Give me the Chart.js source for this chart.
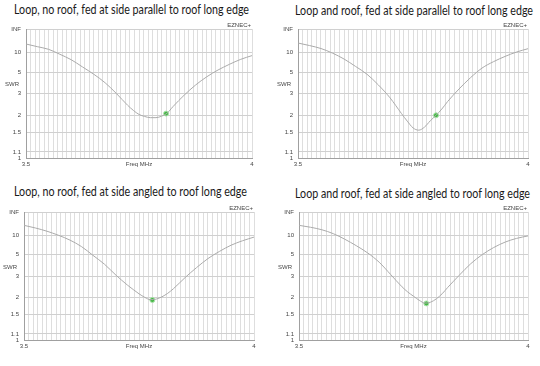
<!DOCTYPE html>
<html>
<head>
<meta charset="utf-8">
<script src="https://cdn.jsdelivr.net/npm/chart.js@4.4.1/dist/chart.umd.min.js"></script>
<style>
  body { margin: 0; background: #fff; width: 540px; height: 366px; position: relative; overflow: hidden; }
  canvas { position: absolute; }
  .title { position: absolute; font-family: Lato, "Open Sans", sans-serif; font-size: 12.5px; line-height: 14px; color: #1a1a1a; white-space: nowrap; }
</style>
</head>
<body>
<div class="title" id="t1"></div><div class="title" id="t2"></div>
<div class="title" id="t3"></div><div class="title" id="t4"></div>
<canvas id="c1" width="270" height="183"></canvas>
<canvas id="c2" width="270" height="183"></canvas>
<canvas id="c3" width="270" height="183"></canvas>
<canvas id="c4" width="270" height="183"></canvas>
<script>
// frequency points (MHz), denser near the dip
const freqs = [3.5, 3.525, 3.55, 3.575, 3.6, 3.625, 3.65, 3.675, 3.7, 3.725, 3.7375, 3.75, 3.7625,
  3.775, 3.7875, 3.8, 3.8125, 3.825, 3.85, 3.875, 3.9, 3.925, 3.95, 3.975, 4.0];

// SWR
const swrNoRoofParallel = [16.2, 13.6, 11.7, 9.2, 7.4, 5.8, 4.7, 3.8, 3.0, 2.38, 2.17, 2.02, 1.95,
  1.91, 1.91, 1.96, 2.07, 2.32, 2.9, 3.6, 4.4, 5.3, 6.3, 7.5, 8.7];
const swrRoofParallel = [17.4, 14.6, 12.2, 9.7, 7.6, 5.9, 4.7, 3.6, 2.75, 2.05, 1.8, 1.61, 1.55,
  1.63, 1.81, 1.99, 2.22, 2.55, 3.3, 4.3, 5.6, 6.9, 8.4, 10.2, 12.1];
const swrNoRoofAngled = [18.2, 15.0, 12.3, 10.0, 8.1, 6.4, 4.9, 3.9, 3.05, 2.5, 2.3, 2.13, 2.0,
  1.92, 1.94, 2.02, 2.15, 2.34, 2.9, 3.6, 4.5, 5.5, 6.7, 7.9, 9.2];
const swrRoofAngled = [18.2, 15.8, 13.4, 10.8, 8.4, 6.6, 5.25, 4.1, 3.1, 2.42, 2.2, 2.04, 1.9,
  1.81, 1.84, 1.95, 2.13, 2.4, 3.05, 3.95, 5.0, 6.2, 7.5, 8.7, 9.7];

// green cursor markers
const markerFreqs = [3.81, 3.80, 3.779, 3.778];
const markerSwr = [2.05, 1.99, 1.91, 1.80];

// axis ticks
const swrTicks = [1, 1.1, 1.5, 2, 3, 5, 10, Infinity];
const swrTickLabels = ['1', '1.1', '1.5', '2', '3', '5', '10', 'INF'];
const freqTickLabels = ['3.5', '4'];

const titles = [
  'Loop, no roof, fed at side parallel to roof long edge',
  'Loop and roof, fed at side parallel to roof long edge',
  'Loop, no roof, fed at side angled to roof long edge',
  'Loop and roof, fed at side angled to roof long edge'
];

// EZNEC plots SWR on a reflection coefficient scale
const toGamma = s => s === Infinity ? 1 : (s - 1) / (s + 1);

const panels = [
  { id: 'c1', x: 0, y: 0, swr: swrNoRoofParallel, area: { l: 26, r: 252, t: 29, b: 158 }, tx: 14, ty: 3, tw: 235 },
  { id: 'c2', x: 270, y: 0, swr: swrRoofParallel, area: { l: 28, r: 258, t: 29, b: 158 }, tx: 295, ty: 4, tw: 238 },
  { id: 'c3', x: 0, y: 183, swr: swrNoRoofAngled, area: { l: 24, r: 254, t: 29, b: 157 }, tx: 14, ty: 185, tw: 233 },
  { id: 'c4', x: 270, y: 183, swr: swrRoofAngled, area: { l: 29, r: 258, t: 29, b: 157 }, tx: 295, ty: 187, tw: 235 }
];

const smallFont = { family: '"Liberation Sans", Arial, sans-serif', size: 6 };

const panelText = {
  id: 'panelText',
  afterDraw(chart) {
    const { ctx, chartArea: a } = chart;
    ctx.save();
    ctx.font = '6px "Liberation Sans", Arial, sans-serif';
    ctx.fillStyle = '#444';
    ctx.textAlign = 'right';
    ctx.textBaseline = 'bottom';
    ctx.fillText('EZNEC+', a.right - 1, a.top - 1);
    ctx.textBaseline = 'middle';
    ctx.fillText('SWR', a.left - 7, a.top + (a.bottom - a.top) * 0.43);
    ctx.textAlign = 'center';
    ctx.textBaseline = 'top';
    ctx.fillText('Freq MHz', (a.left + a.right) / 2, a.bottom + 3);
    ctx.restore();
  }
};

panels.forEach((p, k) => {
  const t = document.getElementById('t' + (k + 1));
  t.textContent = titles[k];
  t.style.left = p.tx + 'px';
  t.style.top = p.ty + 'px';
  const w = t.getBoundingClientRect().width;
  t.style.transformOrigin = 'left top';
  t.style.transform = 'scaleX(' + (p.tw / w) + ')';

  const canvas = document.getElementById(p.id);
  canvas.style.left = p.x + 'px';
  canvas.style.top = p.y + 'px';

  new Chart(canvas, {
    type: 'line',
    data: {
      datasets: [{
        data: freqs.map((f, i) => ({ x: f, y: toGamma(p.swr[i]) })),
        borderColor: '#ababab',
        borderWidth: 1,
        pointRadius: 0,
        cubicInterpolationMode: 'monotone'
      }, {
        data: [{ x: markerFreqs[k], y: toGamma(markerSwr[k]) }],
        showLine: false,
        pointRadius: 2.5,
        pointBackgroundColor: '#45b845',
        pointBorderColor: '#b0e4b0',
        pointBorderWidth: 1
      }]
    },
    options: {
      responsive: false,
      animation: false,
      layout: {
        padding: { left: p.area.l - 20, right: 270 - p.area.r, top: p.area.t, bottom: 183 - p.area.b - 12 }
      },
      plugins: {
        legend: { display: false },
        tooltip: { enabled: false }
      },
      scales: {
        x: {
          type: 'linear',
          min: 3.5,
          max: 4,
          afterBuildTicks: scale => {
            scale.ticks = [];
            for (let i = 0; i <= 50; i++) scale.ticks.push({ value: Math.round(350 + i) / 100 });
          },
          afterFit: scale => { scale.height = 12; },
          ticks: {
            autoSkip: false,
            maxRotation: 0,
            padding: 3,
            font: smallFont,
            color: '#444',
            callback: v => v === 3.5 ? freqTickLabels[0] : (v === 4 ? freqTickLabels[1] : '')
          },
          grid: { color: '#dedede', drawTicks: false },
          border: { color: '#a0a0a0' }
        },
        y: {
          min: 0,
          max: 1,
          afterBuildTicks: scale => {
            scale.ticks = swrTicks.map(s => ({ value: toGamma(s) }));
          },
          afterFit: scale => { scale.width = 20; },
          ticks: {
            autoSkip: false,
            padding: 5,
            font: smallFont,
            color: '#444',
            callback: (v, i) => swrTickLabels[i]
          },
          grid: { color: '#d0d0d0', drawTicks: false },
          border: { color: '#a0a0a0' }
        }
      }
    },
    plugins: [panelText]
  });
});
</script>
</body>
</html>
